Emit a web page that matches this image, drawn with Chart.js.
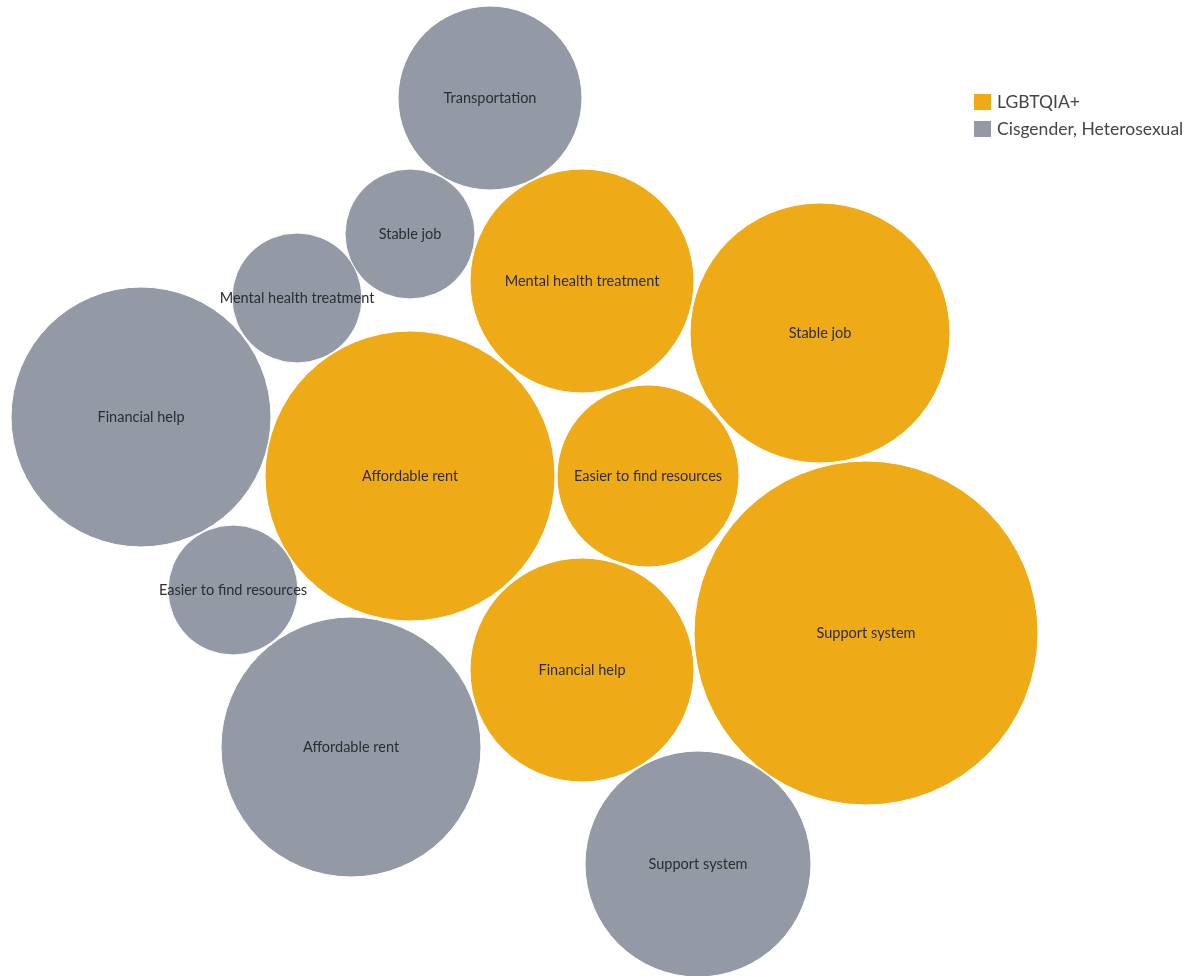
<!DOCTYPE html>
<html>
<head>
<meta charset="utf-8">
<script src="https://cdn.jsdelivr.net/npm/chart.js@4"></script>
<style>
  body { margin: 0; background: #fff; }
  #wrap { position: relative; width: 1198px; height: 976px; }
  #legend { position: absolute; left: 974px; top: 88px; font-family: Lato, "Open Sans", sans-serif; font-size: 17.5px; color: #454545; }
  #legend div { display: flex; align-items: center; height: 27px; }
  #legend span.box { width: 17px; height: 16px; margin-right: 6px; display: inline-block; }
</style>
</head>
<body>
<div id="wrap">
  <canvas id="bubbleChart" width="1198" height="976"></canvas>
  <div id="legend"></div>
</div>
<script>
// bubble centres are layout coordinates of the packed chart, r is bubble size
const lgbtLabels = ['Mental health treatment', 'Stable job', 'Affordable rent', 'Easier to find resources', 'Financial help', 'Support system'];
const lgbtX = [582, 820, 410, 648, 582, 866];
const lgbtY = [281, 333, 476, 476, 670, 633];
const lgbtR = [112, 130, 145, 91, 112, 172];

const cisLabels = ['Transportation', 'Stable job', 'Mental health treatment', 'Financial help', 'Easier to find resources', 'Affordable rent', 'Support system'];
const cisX = [490, 410, 297, 141, 233, 351, 698];
const cisY = [98, 234, 298, 417, 590, 747, 864];
const cisR = [92, 65, 65, 130, 65, 130, 113];

const seriesNames = ['LGBTQIA+', 'Cisgender, Heterosexual'];
const seriesColors = ['#EEAB17', '#949AA5'];

function toPoints(xs, ys, rs) {
    return xs.map((x, i) => ({ x: x, y: ys[i], r: rs[i] }));
}

// writes the category name in the middle of each bubble
const bubbleLabels = {
    id: 'bubbleLabels',
    afterDatasetsDraw(chart) {
        const ctx = chart.ctx;
        ctx.save();
        ctx.font = '14.5px Lato, "Open Sans", sans-serif';
        ctx.fillStyle = '#2c2d33';
        ctx.textAlign = 'center';
        ctx.textBaseline = 'middle';
        chart.data.datasets.forEach((ds, di) => {
            chart.getDatasetMeta(di).data.forEach((pt, i) => {
                ctx.fillText(ds.names[i], pt.x, pt.y);
            });
        });
        ctx.restore();
    }
};

const ctx = document.getElementById('bubbleChart').getContext('2d');
new Chart(ctx, {
    type: 'bubble',
    data: {
        datasets: [
            {
                label: seriesNames[0],
                names: lgbtLabels,
                data: toPoints(lgbtX, lgbtY, lgbtR),
                backgroundColor: seriesColors[0],
                borderColor: '#ffffff',
                borderWidth: 1,
                clip: false
            },
            {
                label: seriesNames[1],
                names: cisLabels,
                data: toPoints(cisX, cisY, cisR),
                backgroundColor: seriesColors[1],
                borderColor: '#ffffff',
                borderWidth: 1,
                clip: false
            }
        ]
    },
    options: {
        responsive: false,
        animation: false,
        layout: { padding: 0, autoPadding: false },
        plugins: { legend: { display: false }, tooltip: { enabled: false } },
        scales: {
            x: { display: false, min: 0, max: 1198 },
            y: { display: false, min: 0, max: 976, reverse: true }
        }
    },
    plugins: [bubbleLabels]
});

// legend
const legend = document.getElementById('legend');
seriesNames.forEach((name, i) => {
    const row = document.createElement('div');
    row.innerHTML = '<span class="box" style="background:' + seriesColors[i] + '"></span>' + name;
    legend.appendChild(row);
});
</script>
</body>
</html>
